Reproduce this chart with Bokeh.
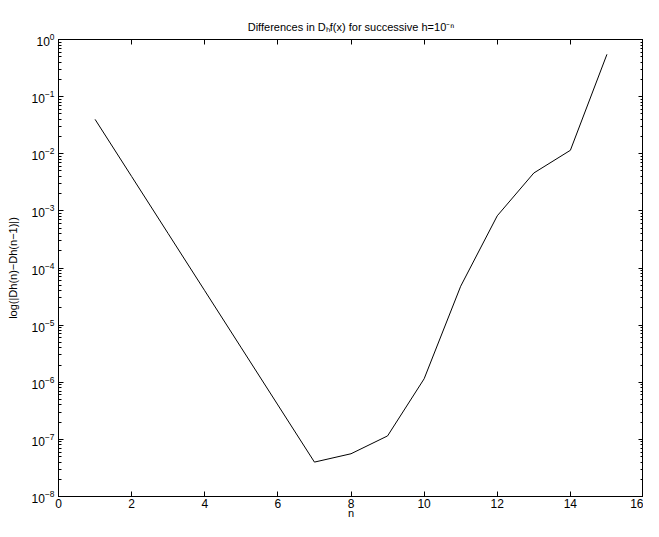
from bokeh.plotting import figure
from bokeh.models import LogAxis, LinearAxis, Range1d, LogTicker, FixedTicker, CustomJSTickFormatter
from bokeh.embed import file_html
from bokeh.resources import INLINE

n_values = [1, 2, 3, 4, 5, 6, 7, 8, 9, 10, 11, 12, 13, 14, 15]
diff_values = [4.0e-2, 4.0e-3, 4.0e-4, 4.0e-5, 4.0e-6, 4.0e-7, 4.0e-8, 5.6e-8,
               1.15e-7, 1.15e-6, 4.8e-5, 8.2e-4, 4.6e-3, 1.15e-2, 0.55]
x_ticks = [0, 2, 4, 6, 8, 10, 12, 14, 16]

FONT = "Liberation Sans"

p = figure(width=643, height=521, output_backend="svg", toolbar_location=None,
           y_axis_type="log", x_range=Range1d(0, 16), y_range=Range1d(1e-8, 1e0),
           min_border_left=58, min_border_right=0, min_border_top=39, min_border_bottom=0)

p.title.text = "Differences in D\u2095f(x) for successive h=10\u207b\u207f"
p.title.align = "center"
p.title.text_font = FONT
p.title.text_font_size = "11px"
p.title.text_font_style = "normal"
p.title.text_color = "black"
p.title.standoff = 14

p.line(n_values, diff_values, line_color="black", line_width=1)

p.grid.visible = False
p.outline_line_color = "black"
p.outline_line_width = 1
p.background_fill_color = "white"
p.border_fill_color = "white"

for ax in [p.xaxis[0], p.yaxis[0]]:
    ax.major_tick_in = 5
    ax.major_tick_out = 0
    ax.minor_tick_in = 3
    ax.minor_tick_out = 0
    ax.axis_line_color = "black"
    ax.major_label_text_font = FONT
    ax.major_label_text_font_size = "12px"
    ax.major_label_text_color = "black"
    ax.axis_label_text_font = FONT
    ax.axis_label_text_font_size = "11px"
    ax.axis_label_text_font_style = "normal"
    ax.axis_label_text_color = "black"

p.xaxis[0].ticker = FixedTicker(ticks=x_ticks)
p.xaxis[0].minor_tick_in = 0
p.xaxis[0].axis_label = "n"
p.xaxis[0].axis_label_standoff = -4
p.xaxis[0].major_label_standoff = 2
p.yaxis[0].axis_label = "log(|Dh(n)\u2212Dh(n\u22121)|)"
p.yaxis[0].axis_label_standoff = 10
p.yaxis[0].major_label_standoff = 4
p.yaxis[0].ticker = LogTicker(desired_num_ticks=9, num_minor_ticks=10)

top = LinearAxis(ticker=FixedTicker(ticks=x_ticks), formatter=CustomJSTickFormatter(code="return '';"),
                 major_label_standoff=0,
                 major_tick_in=5, major_tick_out=0, minor_tick_in=0, minor_tick_out=0,
                 axis_line_color="black")
p.add_layout(top, "above")
right = LogAxis(ticker=LogTicker(desired_num_ticks=9, num_minor_ticks=10),
                formatter=CustomJSTickFormatter(code="return '';"),
                major_label_standoff=0,
                major_tick_in=5, major_tick_out=0, minor_tick_in=3, minor_tick_out=0,
                axis_line_color="black")
p.add_layout(right, "right")

open("out.html", "w").write(file_html(p, INLINE))
